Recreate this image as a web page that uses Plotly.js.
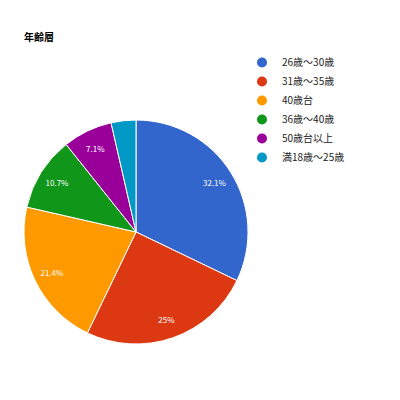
<!DOCTYPE html>
<html>
<head>
<meta charset="utf-8">
<script src="https://cdn.plot.ly/plotly-3.0.1.min.js"></script>
<style>html,body{margin:0;padding:0;background:#fff;}#chart{width:400px;height:400px;}</style>
</head>
<body>
<div id="chart"></div>
<script>
var categories = ['26歳〜30歳', '31歳〜35歳', '40歳台', '36歳〜40歳', '50歳台以上', '満18歳〜25歳'];
var counts = [9, 7, 6, 3, 2, 1];
var colors = ['#3366cc', '#dc3912', '#ff9900', '#109618', '#990099', '#0099c6'];
var titleText = '年齢層';

var total = counts.reduce(function (a, b) { return a + b; }, 0);
var labels = counts.map(function (v) {
  var p = v / total * 100;
  if (p < 5) return '';
  var s = (Math.round(p * 10) / 10).toString();
  return s + '%';
});

var font = '"Noto Sans CJK JP", "Liberation Sans", Arial, sans-serif';
var pieDomain = { x: [0.06, 0.62], y: [0.14, 0.70] };

var traces = [{
  type: 'pie',
  labels: categories,
  values: counts,
  textinfo: 'none',
  sort: false,
  direction: 'clockwise',
  rotation: 0,
  marker: { colors: colors, line: { color: '#ffffff', width: 1 } },
  domain: pieDomain,
  showlegend: false,
  hoverinfo: 'label+percent'
}, {
  type: 'pie',
  labels: categories,
  values: counts,
  text: labels,
  textinfo: 'text',
  textposition: 'inside',
  insidetextorientation: 'horizontal',
  hole: 0.66,
  sort: false,
  direction: 'clockwise',
  rotation: 0,
  marker: { colors: categories.map(function () { return 'rgba(0,0,0,0)'; }), line: { width: 0 } },
  insidetextfont: { color: '#ffffff', size: 8, family: font },
  domain: pieDomain,
  showlegend: false,
  hoverinfo: 'skip'
}];

categories.forEach(function (c, i) {
  traces.push({
    type: 'scatter',
    mode: 'markers',
    x: [null],
    y: [null],
    name: c,
    marker: { color: colors[i], size: 10, symbol: 'circle' },
    showlegend: true,
    hoverinfo: 'skip'
  });
});

var layout = {
  width: 400,
  height: 400,
  margin: { l: 0, r: 0, t: 0, b: 0 },
  paper_bgcolor: '#ffffff',
  plot_bgcolor: '#ffffff',
  font: { family: font, size: 10, color: '#222222' },
  title: {
    text: '<b>' + titleText + '</b>',
    x: 24 / 400,
    xanchor: 'left',
    y: 1 - 37 / 400,
    yanchor: 'middle',
    font: { family: font, size: 10, color: '#000000' }
  },
  xaxis: { visible: false },
  yaxis: { visible: false },
  legend: {
    x: 0.605,
    xanchor: 'left',
    y: 0.88,
    yanchor: 'top',
    font: { family: font, size: 10, color: '#222222' },
    bgcolor: 'rgba(0,0,0,0)',
    tracegroupgap: 0
  },
  showlegend: true
};

Plotly.newPlot('chart', traces, layout, { displayModeBar: false, staticPlot: true });
</script>
</body>
</html>
